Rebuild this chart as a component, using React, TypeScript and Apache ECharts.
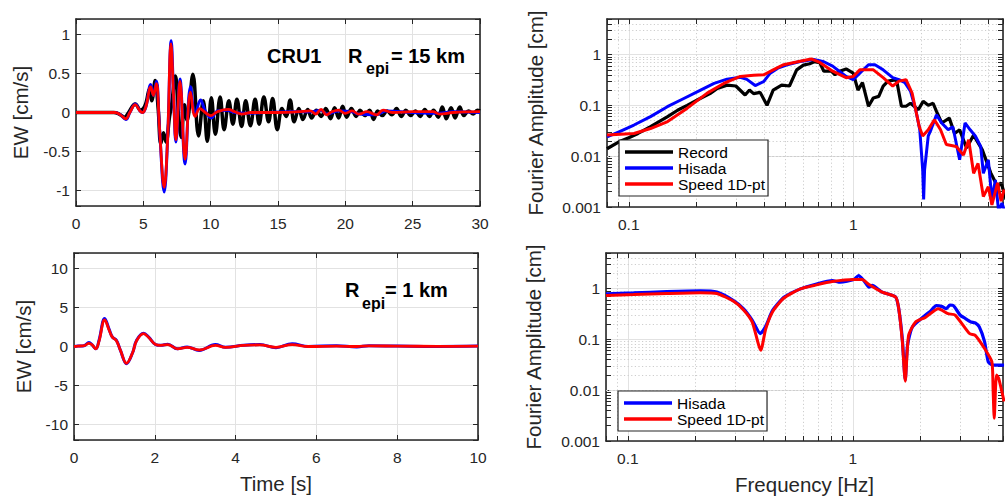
import React, { useEffect, useRef } from 'react';
import * as echarts from 'echarts';

// ---------- Data ----------
// Top-left: velocity EW, R_epi = 15 km  [time s, cm/s]
const ewRecord15: [number, number][] = [
  [0, 0], [2.8, 0], [3.2, -0.02], [3.6, -0.06], [3.9, 0.0], [4.4, 0.11], [4.8, 0.03], [5.15, 0.1],
  [5.45, 0.3], [5.62, 0.15], [5.88, 0.41], [6.1, 0.05], [6.3, -0.4], [6.5, -0.26], [6.68, -0.38],
  [6.95, -0.05], [7.1, 0.1], [7.38, 0.47], [7.6, 0.0], [7.82, -0.32], [8.05, 0.1], [8.25, -0.1],
  [8.68, 0.49], [9.1, -0.3], [9.45, 0.15], [9.75, -0.37], [10.05, 0.19], [10.35, -0.28], [10.7, 0.2],
  [11.0, -0.22], [11.35, 0.15], [11.65, -0.15], [11.95, 0.17], [12.3, -0.18], [12.6, 0.15],
  [12.95, -0.17], [13.3, 0.17], [13.6, -0.15], [13.95, 0.2], [14.3, -0.12], [14.6, 0.18],
  [14.95, -0.22], [15.3, 0.05], [15.6, -0.05], [15.9, 0.16], [16.2, -0.12], [16.55, 0.05],
  [16.85, -0.09], [17.2, 0.04], [17.5, -0.07], [17.85, 0.03], [18.2, -0.05], [18.55, 0.05],
  [18.9, -0.08], [19.2, 0.06], [19.5, -0.07], [19.8, 0.08], [20.1, -0.06], [20.45, 0.05],
  [20.8, -0.05], [21.1, 0.03], [21.45, -0.04], [21.8, 0.03], [22.1, -0.09], [22.4, 0.02],
  [22.75, -0.04], [23.1, 0.02], [23.45, -0.03], [23.8, 0.05], [24.15, -0.05], [24.5, 0.03],
  [24.85, -0.04], [25.2, 0.02], [25.55, -0.05], [25.9, 0.04], [26.25, -0.05], [26.55, 0.03],
  [26.9, -0.06], [27.2, 0.07], [27.5, -0.08], [27.85, 0.06], [28.15, -0.07], [28.5, 0.07],
  [28.8, -0.04], [29.15, 0.02], [29.5, -0.02], [29.8, 0.03], [30, 0.02],
];
const ewHisada15: [number, number][] = [
  [0, 0], [2.9, 0], [3.3, -0.03], [3.7, -0.09], [4.0, 0.0], [4.4, 0.11], [4.75, 0.02], [4.95, 0.0],
  [5.2, 0.08], [5.55, 0.36], [5.75, 0.22], [5.97, 0.4], [6.2, -0.2], [6.55, -1.02], [6.8, -0.35],
  [7.07, 0.92], [7.25, 0.2], [7.42, -0.38], [7.72, 0.43], [8.1, -0.66], [8.5, 0.33], [8.85, -0.02],
  [9.25, 0.16], [9.6, 0.02], [10.05, -0.07], [10.5, 0.02], [11.2, 0.03], [11.8, 0.0], [12.5, -0.01],
  [14, 0.0], [16, 0.01], [17.5, 0.01], [18.2, 0.03], [18.6, -0.02], [19.5, 0.02], [20.5, 0.01],
  [21, -0.02], [22.3, -0.03], [23, 0.02], [25, 0.0], [27, -0.01], [28, 0.01], [30, 0.0],
];
const ewSpeed15: [number, number][] = [
  [0, 0], [2.9, 0], [3.3, -0.03], [3.7, -0.08], [4.0, 0.0], [4.4, 0.1], [4.75, 0.02], [4.95, 0.0],
  [5.2, 0.08], [5.55, 0.33], [5.75, 0.22], [5.97, 0.37], [6.2, -0.2], [6.55, -0.96], [6.8, -0.35],
  [7.05, 0.88], [7.25, 0.2], [7.42, -0.35], [7.72, 0.4], [8.1, -0.6], [8.5, 0.26], [8.85, -0.05],
  [9.2, 0.05], [9.6, 0.0], [10.0, -0.04], [10.5, 0.01], [11.3, 0.04], [11.8, 0.01], [12.3, -0.02],
  [13, 0.0], [15, 0.0], [16.5, 0.01], [17.4, 0.02], [17.8, -0.02], [18.2, 0.04], [18.6, -0.03],
  [19.0, 0.01], [19.5, 0.03], [20.0, -0.01], [20.5, 0.02], [21.0, -0.02], [21.6, 0.01],
  [22.3, -0.03], [22.8, 0.03], [23.5, 0.0], [25, 0.01], [26.5, 0.01], [27, -0.02], [28, 0.0], [30, 0.01],
];

// Bottom-left: velocity EW, R_epi = 1 km
const ewHisada1: [number, number][] = [
  [0, 0], [0.1, 0.05], [0.25, 0.1], [0.37, 0.5], [0.45, 0.2], [0.54, -0.3], [0.62, 0.8], [0.76, 3.6],
  [0.87, 2.2], [0.95, 1.2], [1.05, 0.8], [1.15, -0.5], [1.3, -2.2], [1.45, -0.8], [1.55, 0.8],
  [1.72, 1.7], [1.85, 1.2], [2.02, 0.25], [2.15, 0.15], [2.32, 0.3], [2.56, -0.3], [2.8, -0.05],
  [3.1, -0.5], [3.5, 0.25], [3.75, -0.1], [4.2, 0.15], [4.6, 0.25], [5.0, -0.15], [5.4, 0.35],
  [5.8, 0.0], [6.5, 0.1], [7.0, -0.05], [7.3, 0.1], [8.0, 0.05], [9, 0.0], [10, 0.05],
];
const ewSpeed1: [number, number][] = [
  [0, 0], [0.1, 0.05], [0.25, 0.1], [0.37, 0.4], [0.45, 0.2], [0.54, -0.3], [0.62, 0.7], [0.76, 3.4],
  [0.87, 2.1], [0.95, 1.2], [1.05, 0.75], [1.15, -0.5], [1.3, -2.15], [1.45, -0.8], [1.55, 0.75],
  [1.72, 1.65], [1.85, 1.15], [2.02, 0.25], [2.15, 0.15], [2.32, 0.25], [2.56, -0.3], [2.8, -0.1],
  [3.1, -0.45], [3.5, 0.15], [3.75, -0.1], [4.2, 0.15], [4.6, 0.2], [5.0, -0.1], [5.4, 0.25],
  [5.8, 0.0], [6.5, 0.05], [7.0, 0.0], [7.3, 0.08], [8.0, 0.05], [9, 0.02], [10, 0.05],
];

// Top-right: Fourier amplitude, R_epi = 15 km [Hz, cm]
const faRecord15: [number, number][] = [
  [0.08, 0.014], [0.09, 0.019], [0.1, 0.023], [0.11, 0.028], [0.125, 0.038], [0.149, 0.06],
  [0.165, 0.08], [0.182, 0.1], [0.209, 0.138], [0.23, 0.17], [0.248, 0.215], [0.274, 0.25],
  [0.3, 0.24], [0.33, 0.16], [0.345, 0.2], [0.36, 0.17], [0.385, 0.18], [0.413, 0.1], [0.44, 0.2],
  [0.48, 0.25], [0.52, 0.24], [0.56, 0.5], [0.6, 0.62], [0.64, 0.66], [0.67, 0.72], [0.71, 0.69],
  [0.74, 0.47], [0.8, 0.47], [0.83, 0.4], [0.87, 0.47], [0.93, 0.52], [1.0, 0.43], [1.05, 0.2],
  [1.1, 0.28], [1.17, 0.096], [1.23, 0.14], [1.3, 0.15], [1.36, 0.24], [1.43, 0.3], [1.56, 0.32],
  [1.64, 0.096], [1.72, 0.096], [1.8, 0.11], [1.95, 0.082], [2.05, 0.12], [2.16, 0.1], [2.27, 0.11],
  [2.35, 0.076], [2.48, 0.045], [2.68, 0.056], [2.83, 0.028], [2.98, 0.033], [3.2, 0.0145],
  [3.44, 0.026], [3.76, 0.0133], [4.1, 0.0047], [4.4, 0.0025], [4.56, 0.003], [4.8, 0.0014],
];
const faHisada15: [number, number][] = [
  [0.08, 0.024], [0.0905, 0.03], [0.1055, 0.041], [0.125, 0.06], [0.1486, 0.094], [0.175, 0.135],
  [0.209, 0.2], [0.24, 0.27], [0.274, 0.327], [0.314, 0.358], [0.336, 0.325], [0.366, 0.245],
  [0.399, 0.293], [0.427, 0.43], [0.465, 0.55], [0.508, 0.63], [0.58, 0.73], [0.667, 0.8],
  [0.74, 0.72], [0.81, 0.59], [0.93, 0.37], [1.0, 0.32], [1.07, 0.43], [1.17, 0.63], [1.25, 0.63],
  [1.36, 0.5], [1.5, 0.35], [1.6, 0.32], [1.7, 0.28], [1.8, 0.19], [1.9, 0.082], [1.98, 0.033],
  [2.04, 0.0054], [2.06, 0.0014], [2.08, 0.0054], [2.16, 0.025], [2.22, 0.033], [2.35, 0.065],
  [2.48, 0.045], [2.65, 0.033], [2.78, 0.038], [2.98, 0.0085], [3.15, 0.045], [3.32, 0.033],
  [3.5, 0.025], [3.7, 0.0155], [3.8, 0.0046], [4.0, 0.0085], [4.15, 0.0014], [4.3, 0.0034],
  [4.45, 0.0008], [4.6, 0.0012], [4.7, 0.0009],
];
const faSpeed15: [number, number][] = [
  [0.08, 0.026], [0.1055, 0.028], [0.125, 0.035], [0.149, 0.048], [0.1823, 0.088], [0.2236, 0.174],
  [0.265, 0.27], [0.314, 0.37], [0.36, 0.39], [0.4, 0.4], [0.44, 0.5], [0.49, 0.63], [0.58, 0.74],
  [0.65, 0.82], [0.71, 0.7], [0.81, 0.47], [0.93, 0.35], [1.0, 0.37], [1.07, 0.5], [1.23, 0.5],
  [1.36, 0.35], [1.5, 0.24], [1.6, 0.3], [1.72, 0.32], [1.83, 0.175], [1.97, 0.038], [2.04, 0.025],
  [2.16, 0.033], [2.3, 0.052], [2.45, 0.033], [2.6, 0.017], [2.88, 0.0155], [3.1, 0.0105],
  [3.27, 0.021], [3.44, 0.0046], [3.6, 0.0072], [3.8, 0.0016], [4.0, 0.0025], [4.15, 0.0011],
  [4.4, 0.003], [4.56, 0.0013], [4.7, 0.0022],
];

// Bottom-right: Fourier amplitude, R_epi = 1 km
const faHisada1: [number, number][] = [
  [0.08, 0.79], [0.106, 0.82], [0.149, 0.87], [0.21, 0.9], [0.249, 0.85], [0.295, 0.58],
  [0.327, 0.4], [0.357, 0.24], [0.388, 0.13], [0.41, 0.18], [0.44, 0.37], [0.494, 0.67],
  [0.585, 0.985], [0.69, 1.23], [0.81, 1.43], [0.88, 1.33], [1.01, 1.5], [1.06, 1.8], [1.12, 1.43],
  [1.18, 1.06], [1.22, 1.15], [1.35, 0.85], [1.55, 0.68], [1.6, 0.4], [1.66, 0.1], [1.71, 0.016],
  [1.75, 0.076], [1.84, 0.175], [2.1, 0.3], [2.2, 0.35], [2.35, 0.46], [2.5, 0.44], [2.6, 0.4],
  [2.7, 0.47], [2.8, 0.46], [3.0, 0.3], [3.15, 0.26], [3.35, 0.22], [3.5, 0.21], [3.65, 0.175],
  [3.85, 0.09], [4.0, 0.036], [4.2, 0.031], [4.7, 0.031],
];
const faSpeed1: [number, number][] = [
  [0.08, 0.73], [0.106, 0.76], [0.149, 0.8], [0.21, 0.83], [0.249, 0.8], [0.295, 0.56],
  [0.327, 0.38], [0.357, 0.22], [0.39, 0.061], [0.41, 0.16], [0.44, 0.35], [0.494, 0.65],
  [0.585, 0.985], [0.69, 1.18], [0.81, 1.37], [1.01, 1.5], [1.1, 1.5], [1.18, 1.2], [1.35, 0.85],
  [1.55, 0.68], [1.6, 0.4], [1.66, 0.09], [1.71, 0.015], [1.77, 0.12], [1.9, 0.22], [2.1, 0.27],
  [2.4, 0.4], [2.65, 0.32], [2.85, 0.3], [3.3, 0.13], [3.5, 0.12], [3.85, 0.066], [4.15, 0.036],
  [4.2, 0.011], [4.25, 0.0028], [4.35, 0.02], [4.45, 0.017], [4.7, 0.006],
];

// Minor gridline / tick values on the log axes
const freqMinor = [0.09, 0.2, 0.3, 0.4, 0.5, 0.6, 0.7, 0.8, 0.9, 2, 3, 4];
const ampMinor = [
  0.002, 0.003, 0.004, 0.005, 0.006, 0.007, 0.008, 0.009,
  0.02, 0.03, 0.04, 0.05, 0.06, 0.07, 0.08, 0.09,
  0.2, 0.3, 0.4, 0.5, 0.6, 0.7, 0.8, 0.9, 2, 3, 4,
];

const FREQ_MIN = 0.08;
const FREQ_MAX = 4.65;
const AMP_MIN = 0.001;
const AMP_MAX = 5;

// ---------- Styling ----------
const FONT = "'Liberation Sans', Arial, Helvetica, sans-serif";
const AX = '#262626';
const GRID = '#e2e2e2';
const MINOR = '#cdcdcd';
const TICK_FS = 15.5;
const NAME_FS = 20.5;

const lbl = { color: AX, fontSize: TICK_FS, fontFamily: FONT };
const nameStyle = { color: AX, fontSize: NAME_FS, fontFamily: FONT };

function onStep(v: number, step: number) {
  const r = v / step;
  return Math.abs(r - Math.round(r)) < 1e-6;
}
function linFmt(step: number) {
  return (v: number) => (onStep(v, step) ? String(Math.round(v * 1000) / 1000) : '');
}
function logFmt(v: number) {
  const l = Math.log10(v);
  if (Math.abs(l - Math.round(l)) > 1e-4) return '';
  return String(Number(Math.pow(10, Math.round(l)).toPrecision(1)));
}

const axisLine = { show: true, onZero: false, lineStyle: { color: AX, width: 1.6 } };
const axisTick = { show: true, inside: true, length: 5, lineStyle: { color: AX, width: 1 } };

function linAxisPair(dim: 'x' | 'y', grid: number, min: number, max: number, step: number,
  name: string, nameGap: number, margin: number, useInterval: boolean) {
  const base: any = {
    type: 'value', gridIndex: grid, min, max, splitNumber: 5,
    axisLine, axisTick,
  };
  if (useInterval) base.interval = step;
  const main = {
    ...base,
    position: dim === 'x' ? 'bottom' : 'left',
    axisLabel: { ...lbl, margin, formatter: linFmt(step) },
    splitLine: { show: true, lineStyle: { color: GRID, width: 1 } },
    name, nameLocation: 'middle', nameGap, nameTextStyle: nameStyle,
  };
  const opp = {
    ...base,
    position: dim === 'x' ? 'top' : 'right',
    axisLabel: { show: false },
    splitLine: { show: false },
  };
  return [main, opp];
}

function logAxisPair(dim: 'x' | 'y', grid: number, min: number, max: number,
  name: string, nameGap: number, margin: number) {
  const base: any = { type: 'log', logBase: 10, gridIndex: grid, min, max, axisLine, axisTick };
  const main = {
    ...base,
    position: dim === 'x' ? 'bottom' : 'left',
    axisLabel: { ...lbl, margin, formatter: logFmt },
    splitLine: { show: true, lineStyle: { color: GRID, width: 1 } },
    name, nameLocation: 'middle', nameGap, nameTextStyle: nameStyle,
  };
  const opp = {
    ...base,
    position: dim === 'x' ? 'top' : 'right',
    axisLabel: { show: false },
    splitLine: { show: false },
  };
  return [main, opp];
}

function minorGridSeries(ax: number) {
  return {
    type: 'line', xAxisIndex: ax, yAxisIndex: ax, data: [], z: 1, silent: true,
    markLine: {
      silent: true, symbol: ['none', 'none'], animation: false, z: 1,
      label: { show: false },
      lineStyle: { color: MINOR, width: 1, type: [1.2, 2.4] },
      emphasis: { disabled: true },
      data: [
        ...freqMinor.map((v) => ({ xAxis: v })),
        ...ampMinor.map((v) => ({ yAxis: v })),
      ],
    },
  };
}

function minorTickSeries(ax: number) {
  const ky = Math.pow(10, 5 / 50.8);
  const kx = Math.pow(10, 5 / 225);
  const segs: any[] = [];
  freqMinor.forEach((v) => {
    segs.push([{ coord: [v, AMP_MIN] }, { coord: [v, AMP_MIN * ky] }]);
    segs.push([{ coord: [v, AMP_MAX] }, { coord: [v, AMP_MAX / ky] }]);
  });
  ampMinor.forEach((w) => {
    segs.push([{ coord: [FREQ_MIN, w] }, { coord: [FREQ_MIN * kx, w] }]);
    segs.push([{ coord: [FREQ_MAX, w] }, { coord: [FREQ_MAX / kx, w] }]);
  });
  return {
    type: 'line', xAxisIndex: ax, yAxisIndex: ax, data: [], z: 3, silent: true,
    markLine: {
      silent: true, symbol: ['none', 'none'], animation: false, z: 3,
      label: { show: false },
      lineStyle: { color: AX, width: 1, type: 'solid' },
      emphasis: { disabled: true },
      data: segs,
    },
  };
}

function lineSeries(name: string, data: [number, number][], color: string, width: number,
  ax: number, smooth: number | boolean, z: number) {
  return {
    type: 'line', name, data, xAxisIndex: ax, yAxisIndex: ax, color,
    lineStyle: { color, width }, showSymbol: false, symbol: 'none', smooth, z, silent: true,
    clip: true,
  };
}

function legend(names: string[], left: number, top: number) {
  return {
    data: names, left, top, orient: 'vertical', icon: 'rect', itemWidth: 48, itemHeight: 3.5,
    itemGap: 0, padding: [4, 3, 4, 6], borderColor: AX, borderWidth: 1.2, backgroundColor: '#fff',
    borderRadius: 0, selectedMode: false,
    textStyle: { color: '#000', fontSize: TICK_FS, fontFamily: FONT, lineHeight: 16 },
  };
}

function txt(text: string, x: number, y: number, size: number) {
  return {
    type: 'text', x, y, silent: true, z: 10,
    style: {
      text, fill: '#000', fontSize: size, fontWeight: 'bold', fontFamily: FONT,
      align: 'left', verticalAlign: 'middle', textAlign: 'left', textVerticalAlign: 'middle',
    },
  };
}

export default function App() {
  const ref = useRef<HTMLDivElement>(null);
  useEffect(() => {
    if (!ref.current) return;
    const chart = echarts.init(ref.current, undefined, { renderer: 'svg' });

    const [tlx, tlx2] = linAxisPair('x', 0, 0, 30, 5, '', 30, 9, true);
    const [tly, tly2] = linAxisPair('y', 0, -1.2, 1.2, 0.5, 'EW [cm/s]', 45, 6, false);
    const [blx, blx2] = linAxisPair('x', 1, 0, 10, 2, 'Time [s]', 33, 9, true);
    const [bly, bly2] = linAxisPair('y', 1, -12, 12, 5, 'EW [cm/s]', 40, 6, false);
    const [trx, trx2] = logAxisPair('x', 2, FREQ_MIN, FREQ_MAX, '', 30, 9);
    const [try1, try2] = logAxisPair('y', 2, AMP_MIN, AMP_MAX, 'Fourier Amplitude [cm]', 61, 6);
    const [brx, brx2] = logAxisPair('x', 3, FREQ_MIN, FREQ_MAX, 'Frequency [Hz]', 33, 9);
    const [bry, bry2] = logAxisPair('y', 3, AMP_MIN, AMP_MAX, 'Fourier Amplitude [cm]', 62, 6);

    const option: any = {
      animation: false,
      backgroundColor: '#ffffff',
      textStyle: { fontFamily: FONT },
      grid: [
        { left: 76, top: 19, width: 404, height: 187, outerBoundsMode: 'none', containLabel: false },
        { left: 74, top: 253, width: 404, height: 187, outerBoundsMode: 'none', containLabel: false },
        { left: 607, top: 19, width: 396, height: 188, outerBoundsMode: 'none', containLabel: false },
        { left: 606, top: 253, width: 397, height: 188, outerBoundsMode: 'none', containLabel: false },
      ],
      xAxis: [tlx, tlx2, blx, blx2, trx, trx2, brx, brx2],
      yAxis: [tly, tly2, bly, bly2, try1, try2, bry, bry2],
      legend: [
        legend(['Record', 'Hisada', 'Speed 1D-pt'], 619, 140),
        legend(['Hisada', 'Speed 1D-pt'], 618, 391),
      ],
      series: [
        lineSeries('Record', ewRecord15, '#000000', 3.5, 0, 0.4, 2),
        lineSeries('Hisada', ewHisada15, '#0000ff', 3, 0, 0.4, 3),
        lineSeries('Speed 1D-pt', ewSpeed15, '#ff0000', 2.8, 0, 0.4, 4),

        lineSeries('Hisada', ewHisada1, '#0000ff', 3, 2, 0.4, 3),
        lineSeries('Speed 1D-pt', ewSpeed1, '#ff0000', 2.8, 2, 0.4, 4),

        minorGridSeries(4),
        minorTickSeries(4),
        lineSeries('Record', faRecord15, '#000000', 3.2, 4, false, 2),
        lineSeries('Hisada', faHisada15, '#0000ff', 3, 4, false, 3),
        lineSeries('Speed 1D-pt', faSpeed15, '#ff0000', 3, 4, false, 4),

        minorGridSeries(6),
        minorTickSeries(6),
        lineSeries('Hisada', faHisada1, '#0000ff', 3.2, 6, 0.2, 3),
        lineSeries('Speed 1D-pt', faSpeed1, '#ff0000', 3, 6, 0.2, 4),
      ],
      graphic: [
        txt('CRU1', 267, 56, 20),
        txt('R', 348, 56, 20),
        txt('epi', 366, 68, 16),
        txt('= 15 km', 391, 56, 20),
        txt('R', 345, 290, 20),
        txt('epi', 362, 303, 16),
        txt('= 1 km', 385, 290, 20),
      ],
    };
    chart.setOption(option);
    return () => chart.dispose();
  }, []);

  return (
    <div
      ref={ref}
      style={{ position: 'fixed', left: 0, top: 0, width: 1005, height: 498, background: '#fff' }}
    />
  );
}
